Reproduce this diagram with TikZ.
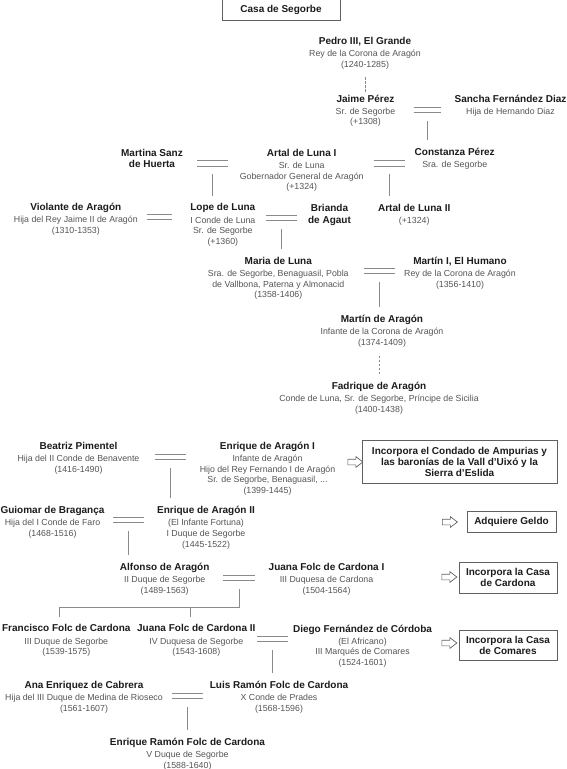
\documentclass[tikz,border=0pt]{standalone}
\usepackage{fontspec}
\setmainfont{Liberation Sans}
\usepackage{xcolor}
\usepackage{tikz}
\usetikzlibrary{shapes.arrows, calc}
\definecolor{lineagris}{HTML}{8A8A8A}
\definecolor{textogris}{HTML}{555555}
\definecolor{nombrenegro}{HTML}{1C1C1C}
\definecolor{bordegris}{HTML}{606060}

\newcommand{\nombre}[1]{{\color{nombrenegro}\bfseries\fontsize{10}{10.7}\selectfont #1}}

\tikzset{
  persona/.style={anchor=north, align=center, inner sep=0pt, text=textogris,
                  font=\fontsize{8.8}{10.7}\selectfont},
  caja/.style={draw=bordegris, line width=0.8pt, align=center, inner sep=0pt,
               text=nombrenegro, font=\bfseries\fontsize{10}{11}\selectfont},
  flecha/.style={single arrow, draw=bordegris, fill=white, line width=0.7pt,
                 inner sep=2.5pt, minimum height=15pt,
                 single arrow head extend=2.5pt, single arrow tip angle=75},
  linea/.style={draw=lineagris, line width=0.8pt},
  hijo/.style={linea, shorten <=11pt, shorten >=8pt},
  linaje/.style={linea, dash pattern=on 2.5pt off 1.5pt},
}

\begin{document}
\begin{tikzpicture}[x=1pt, y=-1pt]
  \useasboundingbox[fill=white] (0,0) rectangle (567,769);

  %% Title
  \node[caja, minimum width=118pt, minimum height=21pt] (titulo) at (281,10) {Casa de Segorbe};

  %% Casa de Luna
  \node[persona] (pedro) at (365,37)
    {\nombre{Pedro III, El Grande}\\[1.4pt] Rey de la Corona de Aragón\\ (1240-1285)};
  \node[persona] (jaime) at (365.5,94.5)
    {\nombre{Jaime Pérez}\\[1.4pt] Sr. de Segorbe\\ (+1308)};
  \node[persona] (sancha) at (510.5,94.5)
    {\nombre{Sancha Fernández Diaz}\\[1.4pt] Hija de Hernando Diaz};
  \node[persona] (martina) at (152,148.9)
    {\nombre{Martina Sanz}\\[0.6pt] \nombre{de Huerta}};
  \node[persona] (artal) at (301.7,148.9)
    {\nombre{Artal de Luna I}\\[1.4pt] Sr. de Luna\\ Gobernador General de Aragón\\ (+1324)};
  \node[persona] (constanza) at (454.7,148.2)
    {\nombre{Constanza Pérez}\\[1.4pt] Sra. de Segorbe};
  \node[persona] (violante) at (75.8,203.2)
    {\nombre{Violante de Aragón}\\[1.4pt] Hija del Rey Jaime II de Aragón\\ (1310-1353)};
  \node[persona] (lope) at (222.8,203.5)
    {\nombre{Lope de Luna}\\[1.4pt] I Conde de Luna\\ Sr. de Segorbe\\ (+1360)};
  \node[persona] (brianda) at (329.5,203.9)
    {\nombre{Brianda}\\[1.5pt] \nombre{de Agaut}};
  \node[persona] (artalii) at (414.2,203.9)
    {\nombre{Artal de Luna II}\\[1.4pt] (+1324)};
  \node[persona] (maria) at (278.3,256.9)
    {\nombre{Maria de Luna}\\[1.4pt] Sra. de Segorbe, Benaguasil, Pobla\\
     de Vallbona, Paterna y Almonacid\\ (1358-1406)};
  \node[persona] (martini) at (460,256.9)
    {\nombre{Martín I, El Humano}\\[1.4pt] Rey de la Corona de Aragón\\ (1356-1410)};
  \node[persona] (martin) at (382,315.2)
    {\nombre{Martín de Aragón}\\[1.4pt] Infante de la Corona de Aragón\\ (1374-1409)};
  \node[persona] (fadrique) at (379,381.9)
    {\nombre{Fadrique de Aragón}\\[1.4pt] Conde de Luna, Sr. de Segorbe, Príncipe de Sicilia\\ (1400-1438)};

  %% Casa de Aragon-Segorbe
  \node[persona] (beatriz) at (78.5,441.9)
    {\nombre{Beatriz Pimentel}\\[1.4pt] Hija del II Conde de Benavente\\ (1416-1490)};
  \node[persona] (enriquei) at (267.5,441.9)
    {\nombre{Enrique de Aragón I}\\[1.4pt] Infante de Aragón\\ Hijo del Rey Fernando I de Aragón\\
     Sr. de Segorbe, Benaguasil, ...\\ (1399-1445)};
  \node[persona] (guiomar) at (52.5,506.2)
    {\nombre{Guiomar de Bragança}\\[1.4pt] Hija del I Conde de Faro\\ (1468-1516)};
  \node[persona] (enriqueii) at (206,506.2)
    {\nombre{Enrique de Aragón II}\\[1.4pt] (El Infante Fortuna)\\ I Duque de Segorbe\\ (1445-1522)};
  \node[persona] (alfonso) at (164.7,562.9)
    {\nombre{Alfonso de Aragón}\\[1.4pt] II Duque de Segorbe\\ (1489-1563)};
  \node[persona] (juanai) at (326.5,562.9)
    {\nombre{Juana Folc de Cardona I}\\[1.4pt] III Duquesa de Cardona\\ (1504-1564)};
  \node[persona] (francisco) at (66.3,624.5)
    {\nombre{Francisco Folc de Cardona}\\[1.4pt] III Duque de Segorbe\\ (1539-1575)};
  \node[persona] (juanaii) at (196.3,624.5)
    {\nombre{Juana Folc de Cardona II}\\[1.4pt] IV Duquesa de Segorbe\\ (1543-1608)};
  \node[persona] (diego) at (362.5,624.5)
    {\nombre{Diego Fernández de Córdoba}\\[1.4pt] (El Africano)\\ III Marqués de Comares\\ (1524-1601)};
  \node[persona] (ana) at (84,681.2)
    {\nombre{Ana Enriquez de Cabrera}\\[1.4pt] Hija del III Duque de Medina de Rioseco\\ (1561-1607)};
  \node[persona] (luis) at (279,681.2)
    {\nombre{Luis Ramón Folc de Cardona}\\[1.4pt] X Conde de Prades\\ (1568-1596)};
  \node[persona] (enriquer) at (187.5,737.9)
    {\nombre{Enrique Ramón Folc de Cardona}\\[1.4pt] V Duque de Segorbe\\ (1588-1640)};

  %% Marriages (double line, half width)
  \coordinate (m1) at (427,110);
  \coordinate (m2) at (212.8,163.3);
  \coordinate (m3) at (389.2,163.3);
  \coordinate (m4) at (159.2,217);
  \coordinate (m5) at (281.5,217.5);
  \coordinate (m6) at (379,271);
  \coordinate (m7) at (170.5,456.5);
  \coordinate (m8) at (128.7,520);
  \coordinate (m9) at (239,578);
  \coordinate (m10) at (272.8,639);
  \coordinate (m11) at (187.5,696);
  \foreach \m/\w in {m1/13.5, m2/15.5, m3/15.5, m4/12.5, m5/15.5, m6/15.5,
                     m7/15.5, m8/15.5, m9/16, m10/15.5, m11/15.5} {
    \draw[linea] ([xshift=-\w, yshift=2.6]\m) -- ([xshift=\w, yshift=2.6]\m);
    \draw[linea] ([xshift=-\w, yshift=-2.6]\m) -- ([xshift=\w, yshift=-2.6]\m);
  }

  %% Descent
  \draw[linaje, shorten <=8pt, shorten >=3pt] (pedro.south -| jaime.north) -- (jaime.north);
  \draw[hijo] (m1) -- (m1 |- constanza.north);
  \draw[hijo] (m2) -- (m2 |- lope.north);
  \draw[hijo] (m3) -- (m3 |- artalii.north);
  \draw[hijo] (m5) -- (m5 |- maria.north);
  \draw[hijo] (m6) -- (m6 |- martin.north);
  \draw[linaje, shorten <=8pt, shorten >=8pt] (martin.south -| m6) -- (fadrique.north -| m6);
  \draw[hijo] (m7) -- (m7 |- enriqueii.north);
  \draw[hijo] (m8) -- (m8 |- alfonso.north);
  \coordinate (rama) at (239,607.7);
  \coordinate (r1) at (59.5,617);
  \coordinate (r2) at (190.7,617);
  \draw[linea, shorten <=11pt] (m9) -- (rama) -| (r1);
  \draw[linea] (rama -| r2) -- (r2);
  \draw[hijo] (m10) -- (m10 |- luis.north);
  \draw[hijo] (m11) -- (m11 |- enriquer.north);

  %% Acquisitions
  \node[caja, minimum width=195pt, minimum height=43pt] (c1) at (459.5,461.7)
    {Incorpora el Condado de Ampurias y\\ las baronías de la Vall d'Uixó y la\\ Sierra d'Eslida};
  \node[caja, minimum width=89pt, minimum height=21pt] (c2) at (511.5,522.3) {Adquiere Geldo};
  \node[caja, minimum width=98pt, minimum height=31pt] (c3) at (508,577.5) {Incorpora la Casa\\ de Cardona};
  \node[caja, minimum width=98pt, minimum height=30pt] (c4) at (508,645) {Incorpora la Casa\\ de Comares};
  \node[flecha] (f1) at (353.5,462) {};
  \node[flecha] (f2) at (448,522) {};
  \node[flecha] (f3) at (447.5,577) {};
  \node[flecha] (f4) at (447.5,643) {};
\end{tikzpicture}
\end{document}
